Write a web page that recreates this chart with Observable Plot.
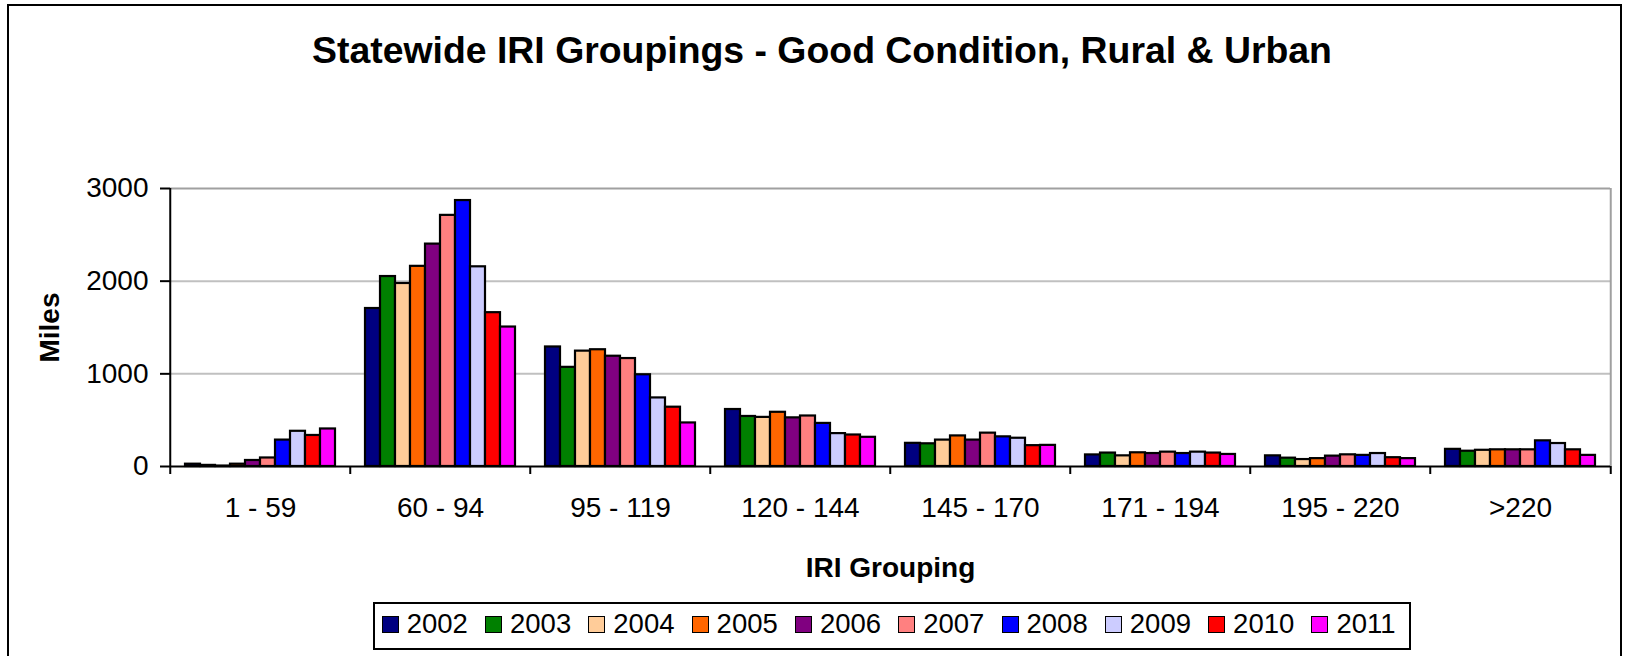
<!DOCTYPE html>
<html>
<head>
<meta charset="utf-8">
<script src="https://cdn.jsdelivr.net/npm/d3@7"></script>
<script src="https://cdn.jsdelivr.net/npm/@observablehq/plot@0.6"></script>
<style>
  html, body { margin: 0; padding: 0; background: #fff; }
  #wrap { position: relative; width: 1627px; height: 656px; overflow: hidden;
          font-family: "Liberation Sans", Arial, sans-serif; color: #000; background: #fff; }
  #border { position: absolute; left: 7px; top: 4px; width: 1615px; height: 720px;
            border: 2px solid #000; box-sizing: border-box; }
  #title { position: absolute; left: 0; top: 32px; width: 1644px; text-align: center;
           font-weight: bold; font-size: 37.4px; line-height: 37px; white-space: nowrap; }
  #chart { position: absolute; left: 0; top: 100px; }
  #legend { position: absolute; left: 373px; top: 602px; width: 1038px; height: 48px;
            border: 2px solid #000; box-sizing: border-box; background: #fff; }
  .item { position: absolute; top: 0; height: 44px; }
  .sw { position: absolute; left: 0; top: 11.7px; width: 15px; height: 15px;
        border: 1.5px solid #000; }
  .lab { position: absolute; left: 25px; top: 5.8px; font-size: 27.5px; line-height: 28px; white-space: nowrap; }
  g[aria-label$="axis label"] text { font-weight: bold; }
</style>
</head>
<body>
<div id="wrap">
  <div id="border"></div>
  <div id="title"></div>
  <div id="chart"></div>
  <div id="legend"></div>
</div>
<script>
const titleText = "Statewide IRI Groupings - Good Condition, Rural & Urban";
const xTitle = "IRI Grouping";
const yTitle = "Miles";

const groups = ["1 - 59", "60 - 94", "95 - 119", "120 - 144", "145 - 170", "171 - 194", "195 - 220", ">220"];
const years = ["2002", "2003", "2004", "2005", "2006", "2007", "2008", "2009", "2010", "2011"];
const colors = ["#000080", "#008000", "#FFCC99", "#FF6600", "#800080", "#FF8080", "#0000FF", "#CCCCFF", "#FF0000", "#FF00FF"];
const yTicks = [0, 1000, 2000, 3000];

// Miles per IRI grouping, one array per year (same order as groups)
const v2002 = [25, 1705, 1290, 615, 250, 125, 115, 185];
const v2003 = [12, 2050, 1070, 540, 245, 145, 90, 165];
const v2004 = [5, 1975, 1245, 530, 285, 115, 75, 175];
const v2005 = [25, 2160, 1260, 585, 330, 148, 85, 180];
const v2006 = [65, 2400, 1190, 525, 285, 140, 112, 180];
const v2007 = [92, 2710, 1165, 545, 360, 155, 126, 180];
const v2008 = [285, 2870, 990, 465, 320, 140, 120, 277];
const v2009 = [380, 2155, 740, 355, 305, 155, 140, 248];
const v2010 = [335, 1660, 640, 340, 225, 145, 95, 180];
const v2011 = [405, 1505, 470, 315, 228, 130, 85, 120];
const series = [v2002, v2003, v2004, v2005, v2006, v2007, v2008, v2009, v2010, v2011];

const data = years.flatMap((yr, i) => groups.map((g, j) => ({group: g, year: yr, value: series[i][j]})));

document.getElementById("title").textContent = titleText;

const W = 1627, H = 485, mL = 168, mR = 15, mT = 88, mB = 119;
const half = (W - mL - mR) / groups.length / 2;
const first = groups[0], last = groups[groups.length - 1];

const chart = Plot.plot({
  width: W, height: H,
  marginLeft: mL, marginRight: mR, marginTop: mT, marginBottom: mB,
  style: {fontFamily: "'Liberation Sans', Arial, sans-serif", fontSize: "28px", color: "#000",
          background: "transparent", overflow: "visible"},
  fx: {domain: groups, padding: 0, label: xTitle},
  x: {domain: years, axis: null, paddingInner: 0, paddingOuter: 0.7},
  y: {domain: [0, 3000], label: yTitle},
  color: {domain: years, range: colors},
  marks: [
    Plot.ruleY([1000, 2000], {stroke: "#c0c0c0", strokeWidth: 2}),
    Plot.ruleY([3000], {stroke: "#a0a0a0", strokeWidth: 2}),
    Plot.ruleX([last], {fx: d => d, x: null, y1: 0, y2: 3000, dx: half, stroke: "#a0a0a0", strokeWidth: 2}),
    Plot.barY(data, {fx: "group", x: "year", y: "value", fill: "year", stroke: "#000", strokeWidth: 2.2}),
    Plot.ruleY([0], {stroke: "#000", strokeWidth: 2}),
    Plot.ruleX([first], {fx: d => d, x: null, y1: 0, y2: 3000, dx: -half, stroke: "#000", strokeWidth: 2}),
    Plot.ruleX(groups, {fx: d => d, x: null, y1: 0, y2: 0, insetBottom: -8, dx: -half, stroke: "#000", strokeWidth: 2}),
    Plot.ruleX([last], {fx: d => d, x: null, y1: 0, y2: 0, insetBottom: -8, dx: half, stroke: "#000", strokeWidth: 2}),
    Plot.axisY({ticks: yTicks, tickFormat: d3.format("d"), tickSize: 10, tickPadding: 12, strokeWidth: 2,
                label: yTitle, labelAnchor: "center", labelOffset: 131, labelArrow: "none"}),
    Plot.axisFx({anchor: "bottom", tickSize: 0, tickPadding: 31, label: xTitle, labelAnchor: "center",
                 labelOffset: 110, labelArrow: "none"})
  ]
});
document.getElementById("chart").appendChild(chart);

const legend = document.getElementById("legend");
years.forEach((yr, i) => {
  const item = document.createElement("div");
  item.className = "item";
  item.style.left = (6.7 + i * 103.3) + "px";
  const sw = document.createElement("div");
  sw.className = "sw";
  sw.style.background = colors[i];
  const lab = document.createElement("div");
  lab.className = "lab";
  lab.textContent = yr;
  item.appendChild(sw);
  item.appendChild(lab);
  legend.appendChild(item);
});
</script>
</body>
</html>
